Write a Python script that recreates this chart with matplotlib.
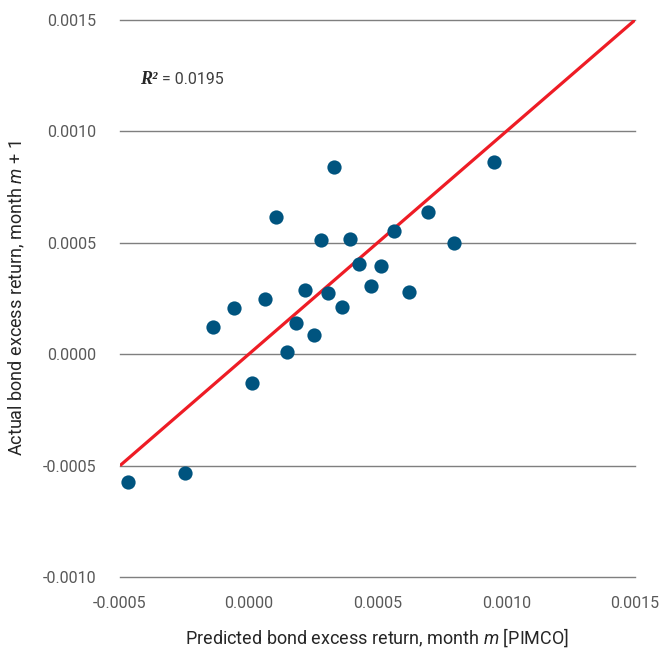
import matplotlib
matplotlib.use("Agg")
import matplotlib.pyplot as plt
import matplotlib.transforms as mtransforms

predicted = [-0.000469, -0.000248, -0.000139, -0.000057, 0.000013, 0.000063,
             0.000106, 0.000149, 0.000184, 0.000218, 0.000253, 0.000281,
             0.000308, 0.000331, 0.000362, 0.000393, 0.000428, 0.000475,
             0.000513, 0.000564, 0.000622, 0.000696, 0.000797, 0.000952]
actual = [-0.000572, -0.000534, 0.000121, 0.000206, -0.000128, 0.000247,
          0.000615, 0.000008, 0.000142, 0.000290, 0.000084, 0.000512,
          0.000274, 0.000839, 0.000214, 0.000516, 0.000403, 0.000306,
          0.000395, 0.000555, 0.000278, 0.000639, 0.000500, 0.000862]
fit_x = [-0.0005, 0.0015]
fit_y = [-0.0005, 0.0015]
x_ticks = [-0.0005, 0.0, 0.0005, 0.0010, 0.0015]
y_ticks = [-0.0010, -0.0005, 0.0, 0.0005, 0.0010, 0.0015]
r2_label = "0.0195"

plt.rcParams['font.family'] = ['Roboto', 'DejaVu Sans']
plt.rcParams['mathtext.fontset'] = 'custom'
plt.rcParams['mathtext.it'] = 'Roboto:italic'
plt.rcParams['mathtext.rm'] = 'Roboto'

fig = plt.figure(figsize=(6.61, 6.50), dpi=100)
ax = fig.add_axes([120/661, 1-577/650, 515/661, 557/650])

ax.set_xlim(-0.0005, 0.0015)
ax.set_ylim(-0.0010, 0.0015)
ax.set_xticks(x_ticks)
ax.set_yticks(y_ticks)
ax.set_xticklabels([f"{v:.4f}" for v in x_ticks])
ax.set_yticklabels([f"{v:.4f}" for v in y_ticks])
ax.tick_params(axis='both', length=0, labelsize=11.5, colors='#595959')
ax.tick_params(axis='x', pad=14)
ax.tick_params(axis='y', pad=17)
for s in ax.spines.values():
    s.set_visible(False)
ax.grid(axis='y', color='#7f7f7f', linewidth=1.0)
for gl in ax.get_ygridlines():
    gl.set_clip_on(False)
ax.set_axisbelow(True)

ax.plot(fit_x, fit_y, color='#EE1C25', linewidth=2.3, zorder=2, solid_capstyle='butt')
ax.scatter(predicted, actual, s=105, color='#00547F', zorder=3, linewidths=0)

ax.set_xlabel("Predicted bond excess return, month $m$ [PIMCO]", fontsize=13,
              color='#262626', labelpad=11)
ax.set_ylabel("Actual bond excess return, month $m$ + 1", fontsize=13,
              color='#262626', labelpad=11)

ax.text(20/515, 1-60/557, "R²", transform=ax.transAxes, fontsize=13,
        family='Liberation Serif', fontweight='bold', fontstyle='italic',
        va='center', ha='left', color='#262626')
off = mtransforms.offset_copy(ax.transAxes, fig=fig, x=22, y=0, units='dots')
ax.text(20/515, 1-60/557, "= " + r2_label, transform=off, fontsize=11.5,
        va='center', ha='left', color='#404040')

fig.savefig("out.png", dpi=100)
